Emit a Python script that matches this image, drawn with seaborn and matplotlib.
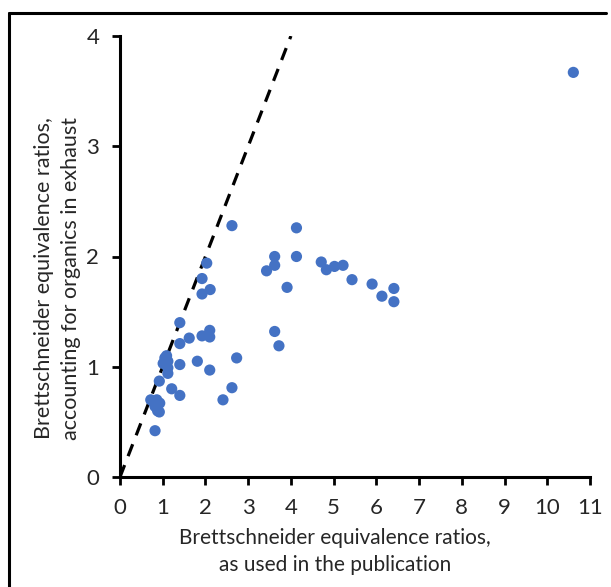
import numpy as np
import pandas as pd
from matplotlib import pyplot as plt
from matplotlib.lines import Line2D
import seaborn as sns

# ratios as used in the publication (x) vs. accounting for organics (y)
published = [0.72, 0.78, 0.86, 0.93, 0.82, 0.88, 0.92, 0.82, 0.92, 1.01, 1.05, 1.12, 1.12,
             1.12, 1.09, 1.21, 1.40, 1.40, 1.40, 1.40, 1.62, 1.81, 1.92, 1.92, 1.92, 2.03,
             2.10, 2.10, 2.10, 2.11, 2.41, 2.62, 2.62, 2.73, 3.43, 3.62, 3.62, 3.62, 3.72,
             3.91, 4.13, 4.13, 4.71, 4.83, 5.02, 5.22, 5.43, 5.90, 6.13, 6.41, 6.41, 10.61]
organics = [0.70, 0.68, 0.70, 0.67, 0.64, 0.60, 0.59, 0.42, 0.87, 1.03, 1.08, 1.05, 0.99,
            0.94, 1.10, 0.80, 1.40, 1.21, 1.02, 0.74, 1.26, 1.05, 1.80, 1.66, 1.28, 1.94,
            1.33, 1.27, 0.97, 1.70, 0.70, 0.81, 2.28, 1.08, 1.87, 2.00, 1.92, 1.32, 1.19,
            1.72, 2.26, 2.00, 1.95, 1.88, 1.91, 1.92, 1.79, 1.75, 1.64, 1.71, 1.59, 3.67]
one_to_one = [0, 4]

df = pd.DataFrame({"published": published, "organics": organics})

sns.set_style("ticks")
plt.rcParams["font.family"] = ["Lato", "DejaVu Sans"]

fig = plt.figure(figsize=(6.11, 5.87), dpi=100)
ax = fig.add_axes([120 / 611, 1 - 477 / 587, 470 / 611, 441 / 587])

sns.lineplot(x=one_to_one, y=one_to_one, ax=ax, color="black", linewidth=2.3,
             linestyle=(0, (4, 3)))
sns.scatterplot(data=df, x="published", y="organics", ax=ax, color="#4472C4",
                s=65, edgecolor="none", zorder=3)

ax.set_xlim(0, 11)
ax.set_ylim(0, 4)
ax.set_xticks(np.arange(0, 12, 1))
ax.set_yticks(np.arange(0, 5, 1))
ax.tick_params(axis="both", labelsize=16, width=2, length=6, color="black", pad=9)
ax.set_xlabel("Brettschneider equivalence ratios,\nas used in the publication",
              fontsize=15, labelpad=7, linespacing=1.45)
ax.set_ylabel("Brettschneider equivalence ratios,\naccounting for organics in exhaust",
              fontsize=15.5, labelpad=4, linespacing=1.45)
ax.xaxis.label.set_x(0.457)
ax.yaxis.label.set_y(0.45)
sns.despine(ax=ax)
for side in ["left", "bottom"]:
    ax.spines[side].set_linewidth(2.2)
    ax.spines[side].set_color("black")
ax.spines["left"].set_zorder(4)

# outer frame of the figure (left and top edges visible)
fig.add_artist(Line2D([9 / 611, 606 / 611], [1 - 13 / 587, 1 - 13 / 587], color="black", lw=2.2))
fig.add_artist(Line2D([9 / 611, 9 / 611], [1 - 13 / 587, 0], color="black", lw=2.2))

fig.savefig("out.png", dpi=100)
